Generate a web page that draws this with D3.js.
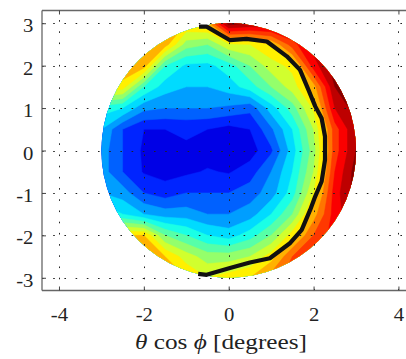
<!DOCTYPE html>
<html>
<head>
<meta charset="utf-8">
<script src="https://cdn.jsdelivr.net/npm/d3@7"></script>
<style>
  body { margin: 0; background: #fff; }
  svg { display: block; }
  text { font-family: "Liberation Serif", "Times New Roman", serif; fill: #222; }
</style>
</head>
<body>
<div id="canvas"></div>
<script>
// grid of the field (x across, y down from top), band units 0..16
var gridX = [-3, -2.5, -2, -1.5, -1, -0.5, 0, 0.5, 1, 1.5, 2, 2.5, 3];
var gridY = [3, 2.5, 2, 1.5, 1, 0.5, 0, -0.5, -1, -1.5, -2, -2.5, -3];
var gridZ = [
  [11, 11, 11, 11, 10, 10.5, 15.5, 15, 15, 15, 15, 15, 15],
  [11, 11, 11, 10.5, 7.5, 7, 8.8, 9, 10, 12.5, 14.5, 15.5, 15.5],
  [11, 11, 10.5, 6, 4.8, 4.7, 5.5, 7, 8.5, 9.3, 13.5, 15.5, 15.5],
  [10, 9.5, 6, 4.5, 4, 4, 4.5, 5.5, 7, 8.5, 10.5, 15, 15.5],
  [5.5, 5, 3.3, 3, 3, 3, 2.8, 2.3, 4.5, 6.5, 9.2, 14, 15.5],
  [4, 2, 1, 1, 1.2, 1, 0.6, 1, 2.8, 5, 8, 12.5, 15],
  [3.5, 2, 0.8, 0.5, 0.8, 0.5, 0.3, 0.5, 1.8, 4.5, 7.5, 12.5, 15],
  [3.5, 2, 0.9, 0.6, 0.8, 1.1, 0.9, 1.5, 3, 5, 8, 13, 15.5],
  [4, 3.5, 2, 1.5, 2, 2, 2, 2.5, 3.5, 5.5, 9, 13.5, 15.5],
  [6, 5, 4, 3.5, 3.5, 3, 3, 3.5, 5, 7, 10.5, 13.5, 15],
  [10, 10, 10, 7, 6, 5, 4.5, 5.5, 7, 9.5, 12, 13.5, 14],
  [11, 11, 11, 10, 8.5, 7.5, 7.5, 8, 9.5, 12, 13, 14, 14],
  [11, 11, 11, 11, 10, 9, 9.5, 10, 11.5, 12.5, 13, 14, 14]
];
var levels = [1, 2, 3, 4, 5, 6, 7, 8, 9, 10, 11, 12, 13, 14, 15];
var bandColors = ["#0000e6", "#0024ff", "#0061ff", "#009eff", "#00dbff", "#1affe6",
  "#57ffa8", "#94ff6b", "#d1ff2e", "#fff000", "#ffb200", "#ff7500", "#ff3800",
  "#fa0000", "#bd0000", "#800000"];

// the thick black curve
var lineX = [-0.70, -0.52, 0.03, 0.42, 0.90, 1.37, 1.68, 1.88, 2.04, 2.19, 2.27, 2.27,
  2.19, 2.04, 1.92, 1.72, 1.45, 0.97, 0.50, 0.03, -0.52, -0.72];
var lineY = [2.92, 2.92, 2.60, 2.63, 2.57, 2.22, 1.90, 1.43, 1.04, 0.76, 0.33, -0.22,
  -0.73, -1.08, -1.40, -1.87, -2.18, -2.54, -2.64, -2.77, -2.93, -2.91];

var xTicks = [-4, -2, 0, 2, 4];
var yTicks = [-3, -2, -1, 0, 1, 2, 3];

var W = 406, H = 359;
var mLeft = 42, mTop = 10.5, mRight = 415.4, mBottom = 290.5;

var x = d3.scaleLinear().domain([-4.4, 4.4]).range([mLeft, mRight]);
var y = d3.scaleLinear().domain([-3.3, 3.3]).range([mBottom, mTop]);

var svg = d3.select("#canvas").append("svg")
    .attr("width", W)
    .attr("height", H);

// clip to the disk
var r = x(3) - x(0);
svg.append("clipPath").attr("id", "disk")
  .append("circle")
    .attr("cx", x(0)).attr("cy", y(0)).attr("r", r);

var field = svg.append("g").attr("clip-path", "url(#disk)");

field.append("circle")
    .attr("cx", x(0)).attr("cy", y(0)).attr("r", r)
    .attr("fill", bandColors[0]);

var dx = gridX[1] - gridX[0], dy = gridY[1] - gridY[0];
var proj = d3.geoTransform({
  point: function(cx, cy) {
    this.stream.point(x(gridX[0] + (cx - 0.5) * dx), y(gridY[0] + (cy - 0.5) * dy));
  }
});
var path = d3.geoPath(proj);

var contours = d3.contours()
    .size([gridX.length, gridY.length])
    .thresholds(levels)(d3.merge(gridZ));

field.selectAll("path.band")
  .data(contours)
  .enter().append("path")
    .attr("class", "band")
    .attr("d", path)
    .attr("fill", function(d) { return bandColors[levels.indexOf(d.value) + 1]; })
    .attr("stroke", function(d) { return bandColors[levels.indexOf(d.value) + 1]; })
    .attr("stroke-width", 0.5);

// dotted grid
var gridG = svg.append("g")
    .attr("stroke", "#222")
    .attr("stroke-width", 1)
    .attr("stroke-dasharray", "1.6,9.6");
gridG.selectAll("line.gx")
  .data(xTicks)
  .enter().append("line")
    .attr("x1", function(d) { return Math.round(x(d)) + 0.5; })
    .attr("x2", function(d) { return Math.round(x(d)) + 0.5; })
    .attr("y1", mBottom).attr("y2", mTop);
gridG.selectAll("line.gy")
  .data(yTicks)
  .enter().append("line")
    .attr("y1", function(d) { return Math.round(y(d)) + 0.5; })
    .attr("y2", function(d) { return Math.round(y(d)) + 0.5; })
    .attr("x1", mLeft).attr("x2", mRight);

// black curve
var line = d3.line()
    .x(function(d, i) { return x(lineX[i]); })
    .y(function(d, i) { return y(lineY[i]); });
svg.append("path")
    .attr("d", line(lineX))
    .attr("fill", "none")
    .attr("stroke", "#111")
    .attr("stroke-width", 4.2)
    .attr("stroke-linejoin", "round");

// axes
var xAxis = svg.append("g")
    .attr("transform", "translate(0," + mBottom + ")")
    .call(d3.axisBottom(x).tickValues(xTicks).tickSize(-4).tickFormat(d3.format("d")));
var xTop = svg.append("g")
    .attr("transform", "translate(0," + mTop + ")")
    .call(d3.axisTop(x).tickValues(xTicks).tickSize(-4).tickFormat(""));
var yAxis = svg.append("g")
    .attr("transform", "translate(" + mLeft + ",0)")
    .call(d3.axisLeft(y).tickValues(yTicks).tickSize(-4).tickFormat(d3.format("d")));

[xAxis, xTop, yAxis].forEach(function(g) {
  g.attr("font-family", null).attr("font-size", null);
  g.select(".domain").attr("stroke", "#666").attr("stroke-width", 1.3);
  g.selectAll(".tick line").attr("stroke", "#444");
});
xTop.select(".domain").attr("d", "M" + mLeft + ",0H" + mRight);
xAxis.select(".domain").attr("d", "M" + mLeft + ",0H" + mRight);
yAxis.select(".domain").attr("d", "M0," + mTop + "V" + mBottom);

xAxis.selectAll(".tick text")
    .attr("y", 18)
    .attr("dy", "0.71em")
    .attr("transform", "scale(1.15,1)")
    .text(function(d) { return String(d); });
yAxis.selectAll(".tick text")
    .attr("x", -7.5)
    .attr("y", 8.5)
    .attr("dy", 0)
    .attr("transform", "scale(1.15,1)")
    .text(function(d) { return String(d); });
svg.selectAll(".tick text")
    .attr("fill", "#222")
    .style("font-family", "'Liberation Serif'")
    .style("font-size", "18px");

// x label
var lab = svg.append("text")
    .attr("x", 135)
    .attr("y", 349)
    .attr("textLength", 172)
    .attr("lengthAdjust", "spacingAndGlyphs")
    .style("font-family", "'Liberation Serif'")
    .style("font-size", "21px");
lab.append("tspan").attr("font-style", "italic").text("\u03b8");
lab.append("tspan").text(" cos ");
lab.append("tspan").attr("font-style", "italic").text("\u03d5");
lab.append("tspan").text(" [degrees]");
</script>
</body>
</html>
